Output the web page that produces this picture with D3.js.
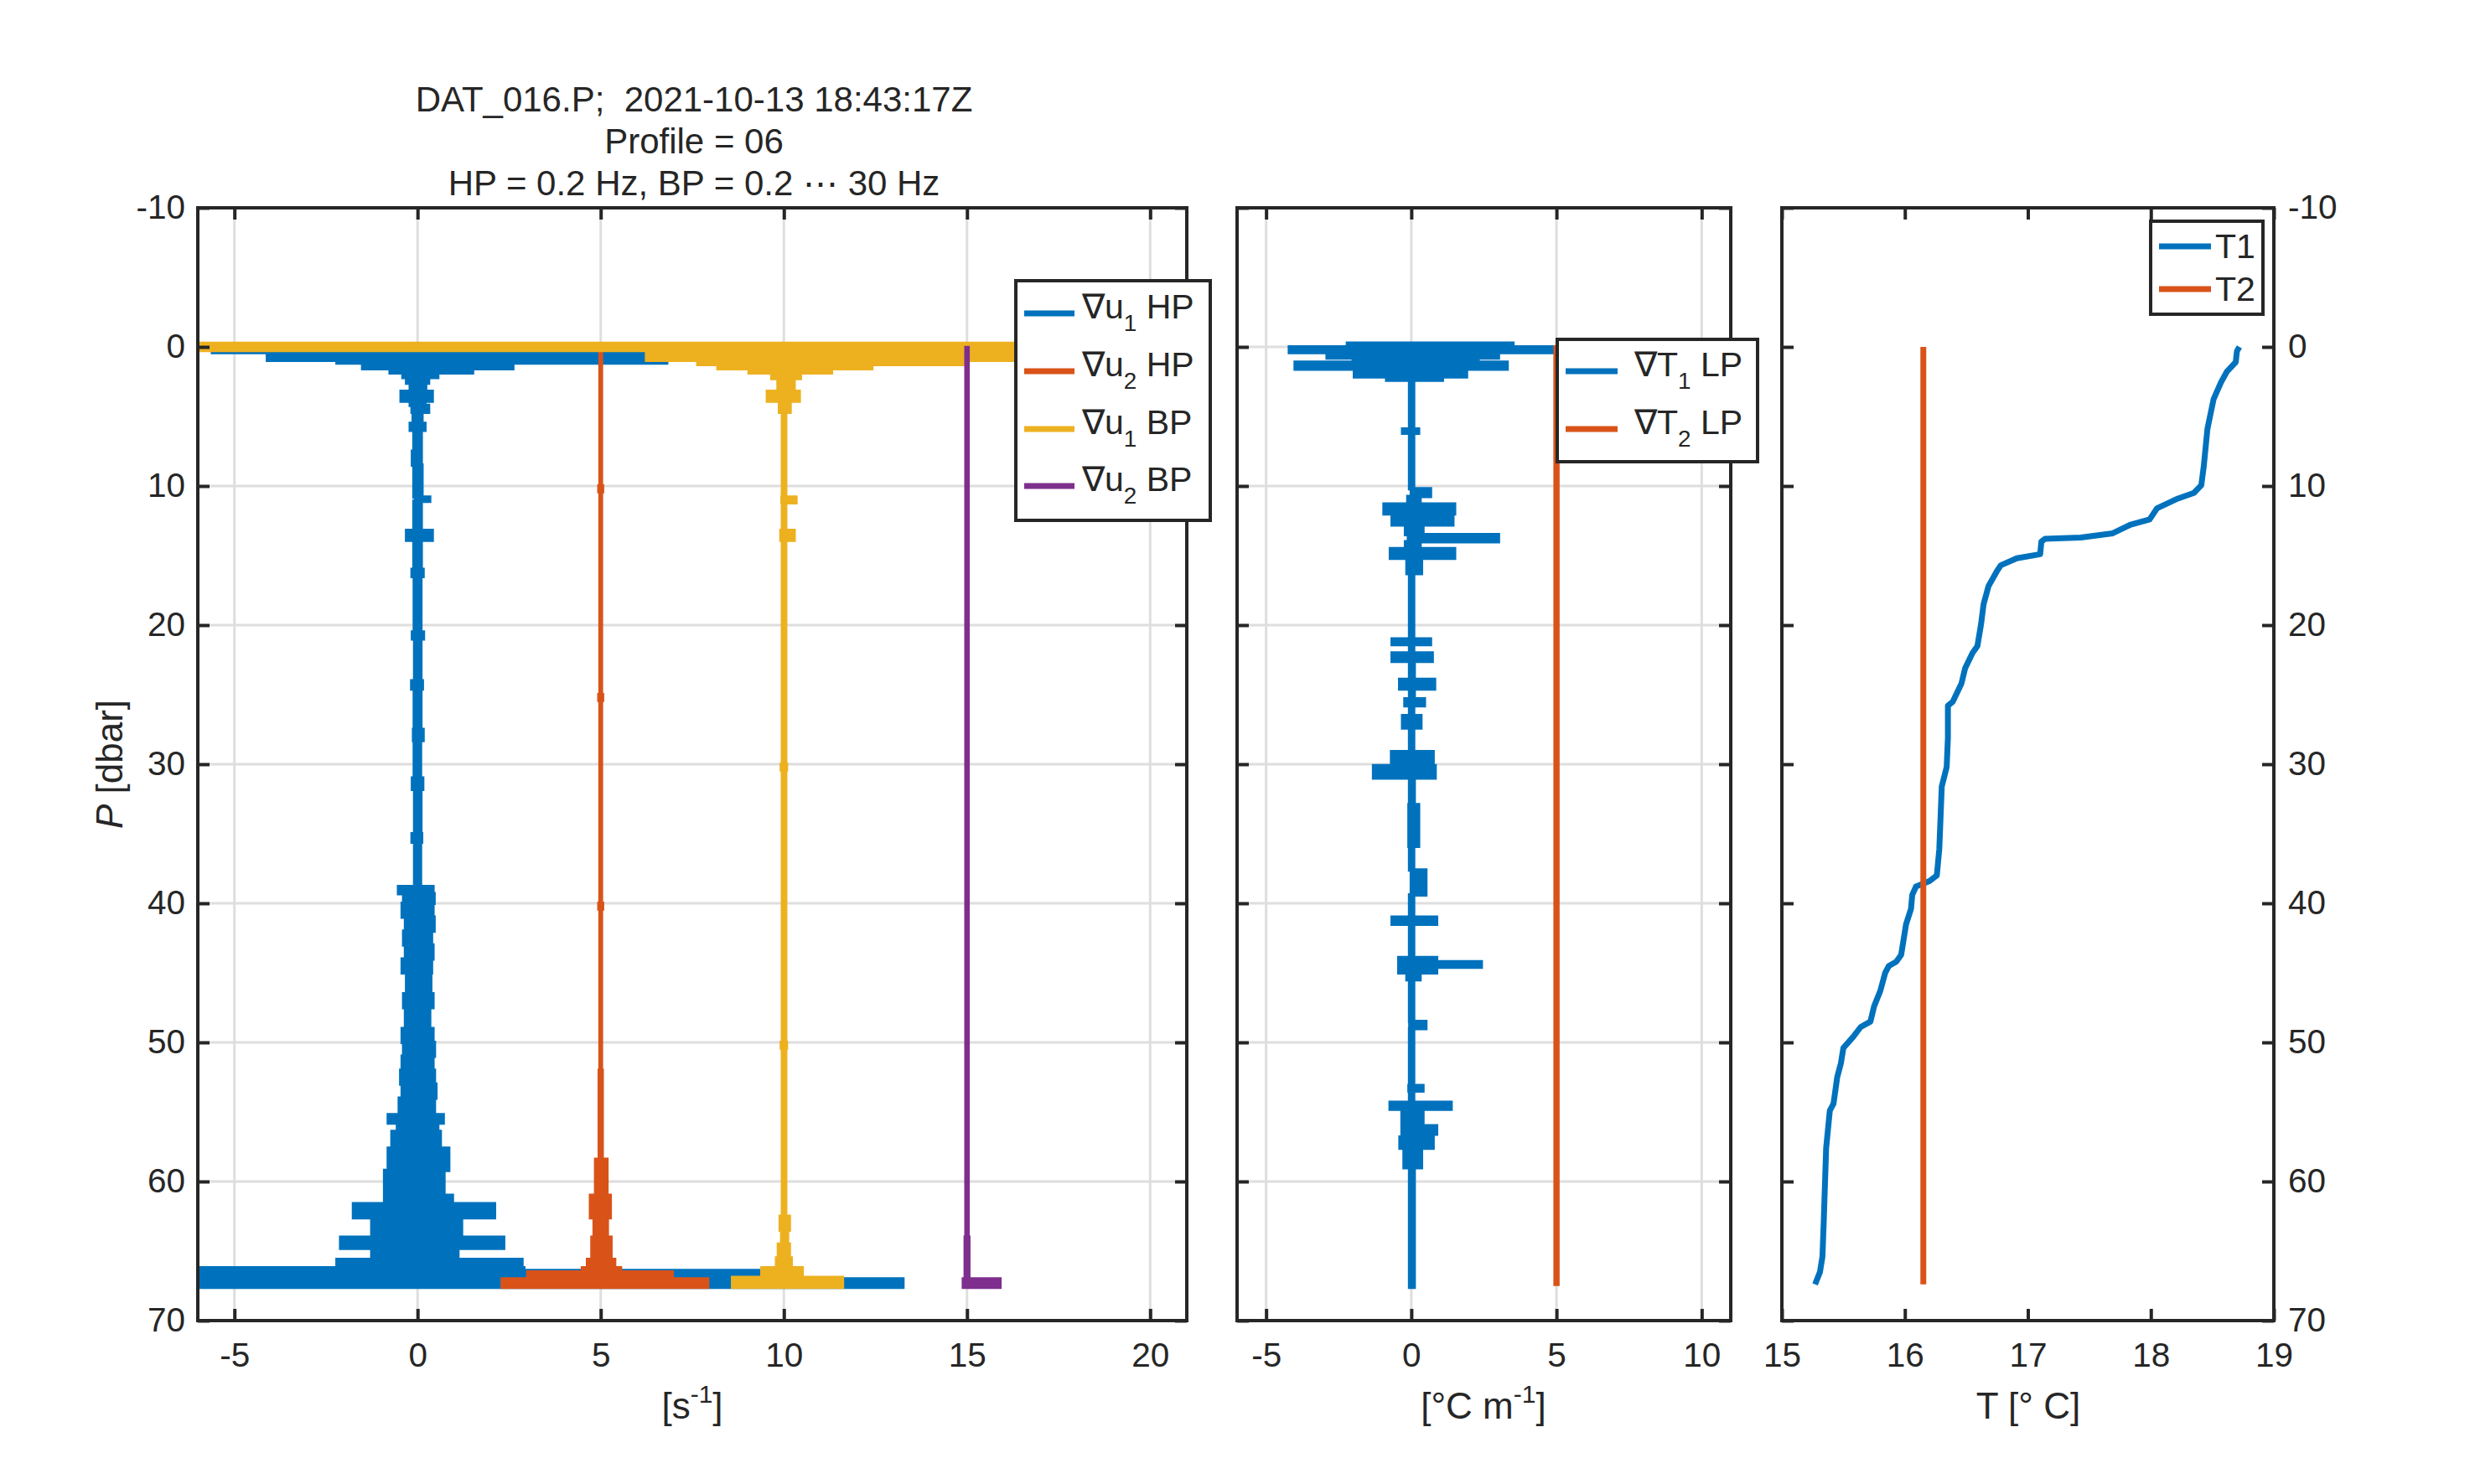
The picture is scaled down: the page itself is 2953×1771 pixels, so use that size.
<!DOCTYPE html>
<html>
<head>
<meta charset="utf-8">
<script src="https://cdn.jsdelivr.net/npm/d3@7"></script>
<style>
   body { margin: 0; background: #fff; }
   text { font-family: "Liberation Sans", Arial, Helvetica, sans-serif; fill: #262626; white-space: pre; }
</style>
</head>
<body>
<svg id="chart" width="2953" height="1771"></svg>
<script>

// tick values
var pressureTicks = [ -10, 0, 10, 20, 30, 40, 50, 60, 70 ];
var shearTicks = [ -5, 0, 5, 10, 15, 20 ];
var gradTTicks = [ -5, 0, 5, 10 ];
var tempTicks = [ 15, 16, 17, 18, 19 ];

var titleLines = [ 'DAT_016.P;  2021-10-13 18:43:17Z', 'Profile = 06', 'HP = 0.2 Hz, BP = 0.2 \u22EF 30 Hz' ];

// shear probes, plotted with offsets
var shearLabels = [ '\u2207u_1 HP', '\u2207u_2 HP', '\u2207u_1 BP', '\u2207u_2 BP' ];
var shearOffsets = [ 0, 5, 10, 15 ];

// envelopes: pressure [dbar], low / high [s^-1]
var u1HP_P = [ 0.2, 0.4, 0.96, 1.16, 1.57, 1.87, 2.2, 2.6, 3.2, 3.9, 4.2, 4.7, 5.5, 6.0, 7.5, 8.5, 10.8, 11.1, 13.2, 13.9,
   16, 16.5, 20.5, 21, 24, 24.6, 27.5, 28.3, 31, 31.8, 35, 35.6, 38.8, 39.3, 40, 41, 42, 43, 44, 45,
   46.5, 47.5, 49, 50, 51, 52, 53, 54, 55.2, 55.8, 56.4, 57.6, 59.2, 61, 61.6, 62.6, 64, 64.8, 65.6, 66.2,
   66.4, 67.0, 67.6 ];
var u1HP_lo = [ -5.6, -4.1, -2.2, -1.5, -0.75, -0.4, -0.3, -0.2, -0.45, -0.2, -0.15, -0.12, -0.2, -0.1, -0.14, -0.1, -0.05, -0.1, -0.3, -0.1,
   -0.15, -0.09, -0.14, -0.08, -0.16, -0.09, -0.11, -0.09, -0.14, -0.08, -0.15, -0.08, -0.52, -0.38, -0.42, -0.33, -0.38, -0.33, -0.42, -0.3,
   -0.38, -0.33, -0.42, -0.38, -0.42, -0.46, -0.42, -0.5, -0.8, -0.55, -0.7, -0.8, -0.9, -0.9, -1.75, -1.25, -2.1, -1.25, -2.2, -6.2,
   -6.2, -6.2, -6.2 ];
var u1HP_hi = [ 6.9, 6.8, 6.8, 2.6, 1.5, 0.55, 0.3, 0.22, 0.4, 0.2, 0.3, 0.12, 0.2, 0.1, 0.1, 0.12, 0.33, 0.1, 0.4, 0.1,
   0.15, 0.09, 0.16, 0.09, 0.13, 0.09, 0.15, 0.08, 0.14, 0.09, 0.11, 0.08, 0.42, 0.45, 0.42, 0.45, 0.38, 0.42, 0.38, 0.36,
   0.42, 0.33, 0.42, 0.46, 0.42, 0.46, 0.5, 0.46, 0.7, 0.55, 0.62, 0.85, 0.72, 0.95, 2.1, 1.2, 2.35, 1.1, 2.85, 2.9,
   9.4, 13.25, 13.25 ];

var u2HP_P = [ 0.3, 10, 10.4, 25, 25.4, 40, 40.4, 52, 58.4, 61, 62.6, 64, 65.6, 66.2, 66.5, 67.0, 67.6 ];
var u2HP_lo = [ -0.02, -0.05, -0.02, -0.05, -0.02, -0.05, -0.02, -0.04, -0.14, -0.28, -0.18, -0.24, -0.36, -0.5, -1.99, -2.69, -2.69 ];
var u2HP_hi = [ 0.02, 0.05, 0.02, 0.05, 0.02, 0.05, 0.02, 0.04, 0.17, 0.26, 0.18, 0.28, 0.38, 0.54, 1.95, 2.92, 2.92 ];

var u1BP_P = [ -0.25, 0.26, 0.96, 1.27, 1.57, 1.87, 2.27, 3.2, 3.9, 4.7, 10.8, 11.2, 13.2, 13.9, 30, 30.4, 50, 50.4, 62.5, 63.5,
   64.5, 65.5, 66.2, 66.9, 67.6 ];
var u1BP_lo = [ -16.2, -3.75, -2.35, -1.8, -0.95, -0.33, -0.16, -0.45, -0.12, -0.04, -0.05, -0.04, -0.08, -0.04, -0.07, -0.04, -0.07, -0.04, -0.1, -0.06,
   -0.15, -0.2, -0.6, -1.4, -1.4 ];
var u1BP_hi = [ 6.8, 6.3, 5.0, 2.4, 1.3, 0.45, 0.28, 0.42, 0.17, 0.05, 0.33, 0.05, 0.28, 0.05, 0.07, 0.05, 0.07, 0.05, 0.15, 0.1,
   0.15, 0.2, 0.5, 1.6, 1.6 ];

var u2BP_P = [ 0.05, 62.0, 64.0, 67.0, 67.6 ];
var u2BP_lo = [ -0.03, -0.03, -0.05, -0.1, -0.1 ];
var u2BP_hi = [ 0.03, 0.03, 0.05, 0.9, 0.9 ];

// temperature gradients [deg C / m]
var gradLabels = [ '\u2207T_1 LP', '\u2207T_2 LP' ];
var gradOffsets = [ 0, 5 ];

var gT1_P = [ -0.27, 0.0, 0.4, 0.8, 1.1, 1.6, 2.15, 2.4, 5.9, 6.2, 10.2, 10.75, 11.3, 12.0, 12.2, 12.8, 13.5, 14.0, 14.5, 15.2,
   16.3, 21.0, 21.4, 22.0, 22.6, 23.9, 24.6, 25.3, 25.8, 26.5, 27.4, 29.1, 30.1, 31.0, 32.9, 35.9, 37.6, 39.4, 41.0, 41.5,
   43.9, 44.2, 44.6, 45.0, 45.5, 48.5, 49.0, 53.1, 53.5, 54.3, 54.8, 56.0, 56.6, 56.8, 57.6, 59.0, 67.6 ];
var gT1_lo = [ -2.2, -4.2, -2.9, -2.0, -4.0, -1.96, -0.85, -0.06, -0.3, -0.06, 0.0, -0.12, -0.94, -0.3, -0.66, -0.2, -0.1, -0.2, -0.72, -0.15,
   -0.06, -0.66, -0.06, -0.66, -0.06, -0.4, -0.06, -0.22, -0.06, -0.3, -0.06, -0.68, -1.3, -0.06, -0.08, -0.06, 0.0, -0.06, -0.66, -0.06,
   -0.43, -0.43, -0.43, -0.15, -0.06, -0.05, -0.06, -0.08, -0.06, -0.73, -0.32, -0.32, -0.2, -0.39, -0.25, -0.06, -0.06 ];
var gT1_hi = [ 3.5, 4.9, 3.0, 2.3, 3.3, 1.9, 1.07, 0.08, 0.25, 0.08, 0.66, 0.3, 1.49, 0.4, 1.43, 0.4, 3.0, 0.3, 1.49, 0.35,
   0.08, 0.66, 0.08, 0.72, 0.1, 0.8, 0.1, 0.45, 0.08, 0.33, 0.08, 0.75, 0.82, 0.1, 0.25, 0.08, 0.5, 0.08, 0.87, 0.08,
   0.87, 2.41, 0.87, 0.3, 0.08, 0.5, 0.08, 0.4, 0.08, 1.37, 0.4, 0.87, 0.3, 0.75, 0.35, 0.1, 0.1 ];

var gT2_P = [ 0.0, 67.4 ];
var gT2_lo = [ -0.05, -0.05 ];
var gT2_hi = [ 0.05, 0.05 ];

// temperature [deg C]
var tempLabels = [ 'T1', 'T2' ];
var T1_P = [ 0.0, 0.3, 1.1, 1.75, 2.55, 3.76, 5.9, 8.6, 9.95, 10.5, 10.9, 11.6, 12.4, 12.8, 13.4, 13.7, 13.8, 14.0, 14.9, 15.2,
   15.7, 16.1, 17.2, 18.5, 19.9, 21.5, 22.0, 23.1, 24.2, 25.5, 25.8, 28.1, 30.2, 31.6, 36.1, 38.0, 38.4, 38.8, 39.4, 40.4,
   41.5, 43.7, 44.2, 44.5, 45.0, 46.3, 47.4, 48.5, 48.9, 49.6, 50.4, 51.5, 52.5, 54.4, 54.9, 57.6, 63.0, 65.4, 66.5, 67.4 ];
var T1 = [ 18.72, 18.70, 18.69, 18.62, 18.57, 18.51, 18.46, 18.43, 18.41, 18.35, 18.22, 18.05, 17.99, 17.83, 17.69, 17.43, 17.14, 17.11, 17.10, 16.91,
   16.78, 16.75, 16.68, 16.64, 16.62, 16.59, 16.55, 16.49, 16.46, 16.39, 16.35, 16.35, 16.34, 16.30, 16.28, 16.26, 16.20, 16.09, 16.06, 16.05,
   16.01, 15.97, 15.93, 15.87, 15.84, 15.80, 15.75, 15.72, 15.64, 15.58, 15.50, 15.48, 15.45, 15.42, 15.39, 15.36, 15.34, 15.33, 15.31, 15.27 ];
var T2_P = [ 0.0, 67.4 ];
var T2 = [ 16.15, 16.15 ];


var colors = [ '#0072BD', '#D95319', '#EDB120', '#7E2F8E' ];
var ink = '#262626';
var TOP = 248, BOTTOM = 1576, TICK = 14;
var FONT = 40.5;

var svg = d3.select( '#chart' );
var y = d3.scaleLinear().domain( [ -10, 70 ] ).range( [ TOP, BOTTOM ] );

var x1 = d3.scaleLinear().domain( [ -6, 21 ] ).range( [ 236, 1416 ] );
var x2 = d3.scaleLinear().domain( [ -6, 11 ] ).range( [ 1476, 2065 ] );
var x3 = d3.scaleLinear().domain( [ 15, 19 ] ).range( [ 2126, 2713 ] );


function _rows( P, lo, hi, offset ) {
   return P.map( function( p, i ) {
      return { p: p, lo: lo[ i ] + offset, hi: hi[ i ] + offset };
   });
}

function _styleAxis( g ) {
   g.select( '.domain' ).remove();
   g.selectAll( '.tick line' ).attr( 'stroke', ink ).attr( 'stroke-width', 4 );
   g.selectAll( '.tick text' )
      .attr( 'fill', ink )
      .style( 'font-size', FONT + 'px' )
      .style( 'font-family', '"Liberation Sans", Arial, sans-serif' );
}

function _grid( x, xTicks ) {
   var g = svg.append( 'g' );
   g.selectAll( 'line.gx' ).data( xTicks ).enter()
      .append( 'line' )
      .attr( 'x1', x ).attr( 'x2', x )
      .attr( 'y1', TOP ).attr( 'y2', BOTTOM );
   g.selectAll( 'line.gy' ).data( pressureTicks ).enter()
      .append( 'line' )
      .attr( 'x1', x.range()[ 0 ] ).attr( 'x2', x.range()[ 1 ] )
      .attr( 'y1', y ).attr( 'y2', y );
   g.selectAll( 'line' ).attr( 'stroke', '#dedede' ).attr( 'stroke-width', 3 );
}

function _frame( x, xTicks, yLabelSide ) {
   var left = x.range()[ 0 ], right = x.range()[ 1 ];
   var fmt = function( d ) { return String( d ); };

   svg.append( 'g' ).attr( 'transform', 'translate(0,' + BOTTOM + ')' )
      .call( d3.axisBottom( x ).tickValues( xTicks ).tickFormat( fmt )
         .tickSizeInner( -TICK ).tickSizeOuter( 0 ).tickPadding( 26 ) )
      .call( _styleAxis );
   svg.append( 'g' ).attr( 'transform', 'translate(0,' + TOP + ')' )
      .call( d3.axisTop( x ).tickValues( xTicks ).tickFormat( '' )
         .tickSizeInner( -TICK ).tickSizeOuter( 0 ) )
      .call( _styleAxis );
   svg.append( 'g' ).attr( 'transform', 'translate(' + left + ',0)' )
      .call( d3.axisLeft( y ).tickValues( pressureTicks ).tickFormat( yLabelSide == 'left' ? fmt : '' )
         .tickSizeInner( -TICK ).tickSizeOuter( 0 ).tickPadding( 15 ) )
      .call( _styleAxis );
   svg.append( 'g' ).attr( 'transform', 'translate(' + right + ',0)' )
      .call( d3.axisRight( y ).tickValues( pressureTicks ).tickFormat( yLabelSide == 'right' ? fmt : '' )
         .tickSizeInner( -TICK ).tickSizeOuter( 0 ).tickPadding( 17 ) )
      .call( _styleAxis );

   svg.append( 'rect' )
      .attr( 'x', left ).attr( 'y', TOP )
      .attr( 'width', right - left ).attr( 'height', BOTTOM - TOP )
      .attr( 'fill', 'none' )
      .attr( 'stroke', ink ).attr( 'stroke-width', 4 );
}

function _clip( id, x ) {
   svg.append( 'clipPath' ).attr( 'id', id )
      .append( 'rect' )
      .attr( 'x', x.range()[ 0 ] ).attr( 'y', TOP )
      .attr( 'width', x.range()[ 1 ] - x.range()[ 0 ] ).attr( 'height', BOTTOM - TOP );
   return svg.append( 'g' ).attr( 'clip-path', 'url(#' + id + ')' );
}

function _envelope( g, x, rows, color ) {
   var area = d3.area()
      .curve( d3.curveStepBefore )
      .y( function( d ) { return y( d.p ); } )
      .x0( function( d ) { return x( d.lo ); } )
      .x1( function( d ) { return x( d.hi ); } );
   g.append( 'path' )
      .datum( rows )
      .attr( 'd', area )
      .attr( 'fill', color )
      .attr( 'stroke', color )
      .attr( 'stroke-width', 4 )
      .attr( 'stroke-linejoin', 'miter' );
}

// "a_1 b" style label with a subscript
function _texLabel( sel, label, size ) {
   var parts = label.split( '_' );
   sel.append( 'tspan' ).text( parts[ 0 ] );
   if ( parts.length > 1 ) {
      sel.append( 'tspan' ).attr( 'dy', 15 ).style( 'font-size', ( size * 0.68 ) + 'px' ).text( parts[ 1 ].charAt( 0 ) );
      sel.append( 'tspan' ).attr( 'dy', -15 ).text( parts[ 1 ].slice( 1 ) );
   }
}

function _legend( box, labels, cols, rowY, lineX, textX, shift ) {
   var g = svg.append( 'g' );
   g.append( 'rect' )
      .attr( 'x', box[ 0 ] ).attr( 'y', box[ 1 ] )
      .attr( 'width', box[ 2 ] ).attr( 'height', box[ 3 ] )
      .attr( 'fill', '#fff' ).attr( 'stroke', ink ).attr( 'stroke-width', 4 );
   labels.forEach( function( label, i ) {
      var yy = rowY[ i ];
      g.append( 'line' )
         .attr( 'x1', lineX[ 0 ] ).attr( 'x2', lineX[ 1 ] )
         .attr( 'y1', yy ).attr( 'y2', yy )
         .attr( 'stroke', cols[ i ] ).attr( 'stroke-width', 7 );
      var t = g.append( 'text' )
         .attr( 'x', textX ).attr( 'y', yy + shift )
         .style( 'font-size', '41px' );
      _texLabel( t, label, 41 );
   });
}

function _xLabel( cx, parts ) {
   var t = svg.append( 'text' )
      .attr( 'x', cx ).attr( 'y', 1693 )
      .attr( 'text-anchor', 'middle' )
      .style( 'font-size', '44px' );
   t.append( 'tspan' ).text( parts[ 0 ] );
   if ( parts.length > 1 ) {
      t.append( 'tspan' ).attr( 'dy', -19 ).style( 'font-size', '30px' ).text( parts[ 1 ] );
      t.append( 'tspan' ).attr( 'dy', 19 ).text( parts[ 2 ] );
   }
}


// panel 1: shear
_grid( x1, shearTicks );
var g1 = _clip( 'clip1', x1 );
[ [ u1HP_P, u1HP_lo, u1HP_hi ], [ u2HP_P, u2HP_lo, u2HP_hi ],
  [ u1BP_P, u1BP_lo, u1BP_hi ], [ u2BP_P, u2BP_lo, u2BP_hi ] ].forEach( function( s, i ) {
   _envelope( g1, x1, _rows( s[ 0 ], s[ 1 ], s[ 2 ], shearOffsets[ i ] ), colors[ i ] );
});
_frame( x1, shearTicks, 'left' );

// panel 2: temperature gradient
_grid( x2, gradTTicks );
var g2 = _clip( 'clip2', x2 );
[ [ gT1_P, gT1_lo, gT1_hi ], [ gT2_P, gT2_lo, gT2_hi ] ].forEach( function( s, i ) {
   _envelope( g2, x2, _rows( s[ 0 ], s[ 1 ], s[ 2 ], gradOffsets[ i ] ), colors[ i ] );
});
_frame( x2, gradTTicks, 'none' );

// panel 3: temperature
var g3 = _clip( 'clip3', x3 );
var tLine = d3.line()
   .x( function( d ) { return x3( d[ 0 ] ); } )
   .y( function( d ) { return y( d[ 1 ] ); } );
[ d3.zip( T1, T1_P ), d3.zip( T2, T2_P ) ].forEach( function( pts, i ) {
   g3.append( 'path' )
      .datum( pts )
      .attr( 'd', tLine )
      .attr( 'fill', 'none' )
      .attr( 'stroke', colors[ i ] )
      .attr( 'stroke-width', 7 )
      .attr( 'stroke-linejoin', 'round' );
});
_frame( x3, tempTicks, 'right' );

// legends
_legend( [ 1212, 335, 232, 286 ], shearLabels, colors, [ 374, 443, 512, 580 ], [ 1222, 1282 ], 1291, 6 );
_legend( [ 1858, 405, 239, 146 ], gradLabels, colors, [ 443, 512 ], [ 1868, 1930 ], 1950, 6 );
_legend( [ 2566, 264, 134, 111 ], tempLabels, colors, [ 294, 345 ], [ 2576, 2638 ], 2643, 14 );

// title
svg.append( 'g' ).selectAll( 'text' ).data( titleLines ).enter()
   .append( 'text' )
   .attr( 'x', 828 )
   .attr( 'y', function( d, i ) { return 133 + i * 50; } )
   .attr( 'text-anchor', 'middle' )
   .style( 'font-size', '42px' )
   .text( function( d ) { return d; } );

// axis labels
_xLabel( 826, [ '[s', '-1', ']' ] );
_xLabel( 1770, [ '[\u00B0C m', '-1', ']' ] );
_xLabel( 2420, [ 'T [\u00B0 C]' ] );

var yl = svg.append( 'text' )
   .attr( 'transform', 'translate(146,912) rotate(-90)' )
   .attr( 'text-anchor', 'middle' )
   .style( 'font-size', '44px' );
yl.append( 'tspan' ).style( 'font-style', 'italic' ).text( 'P' );
yl.append( 'tspan' ).text( ' [dbar]' );

</script>
</body>
</html>
